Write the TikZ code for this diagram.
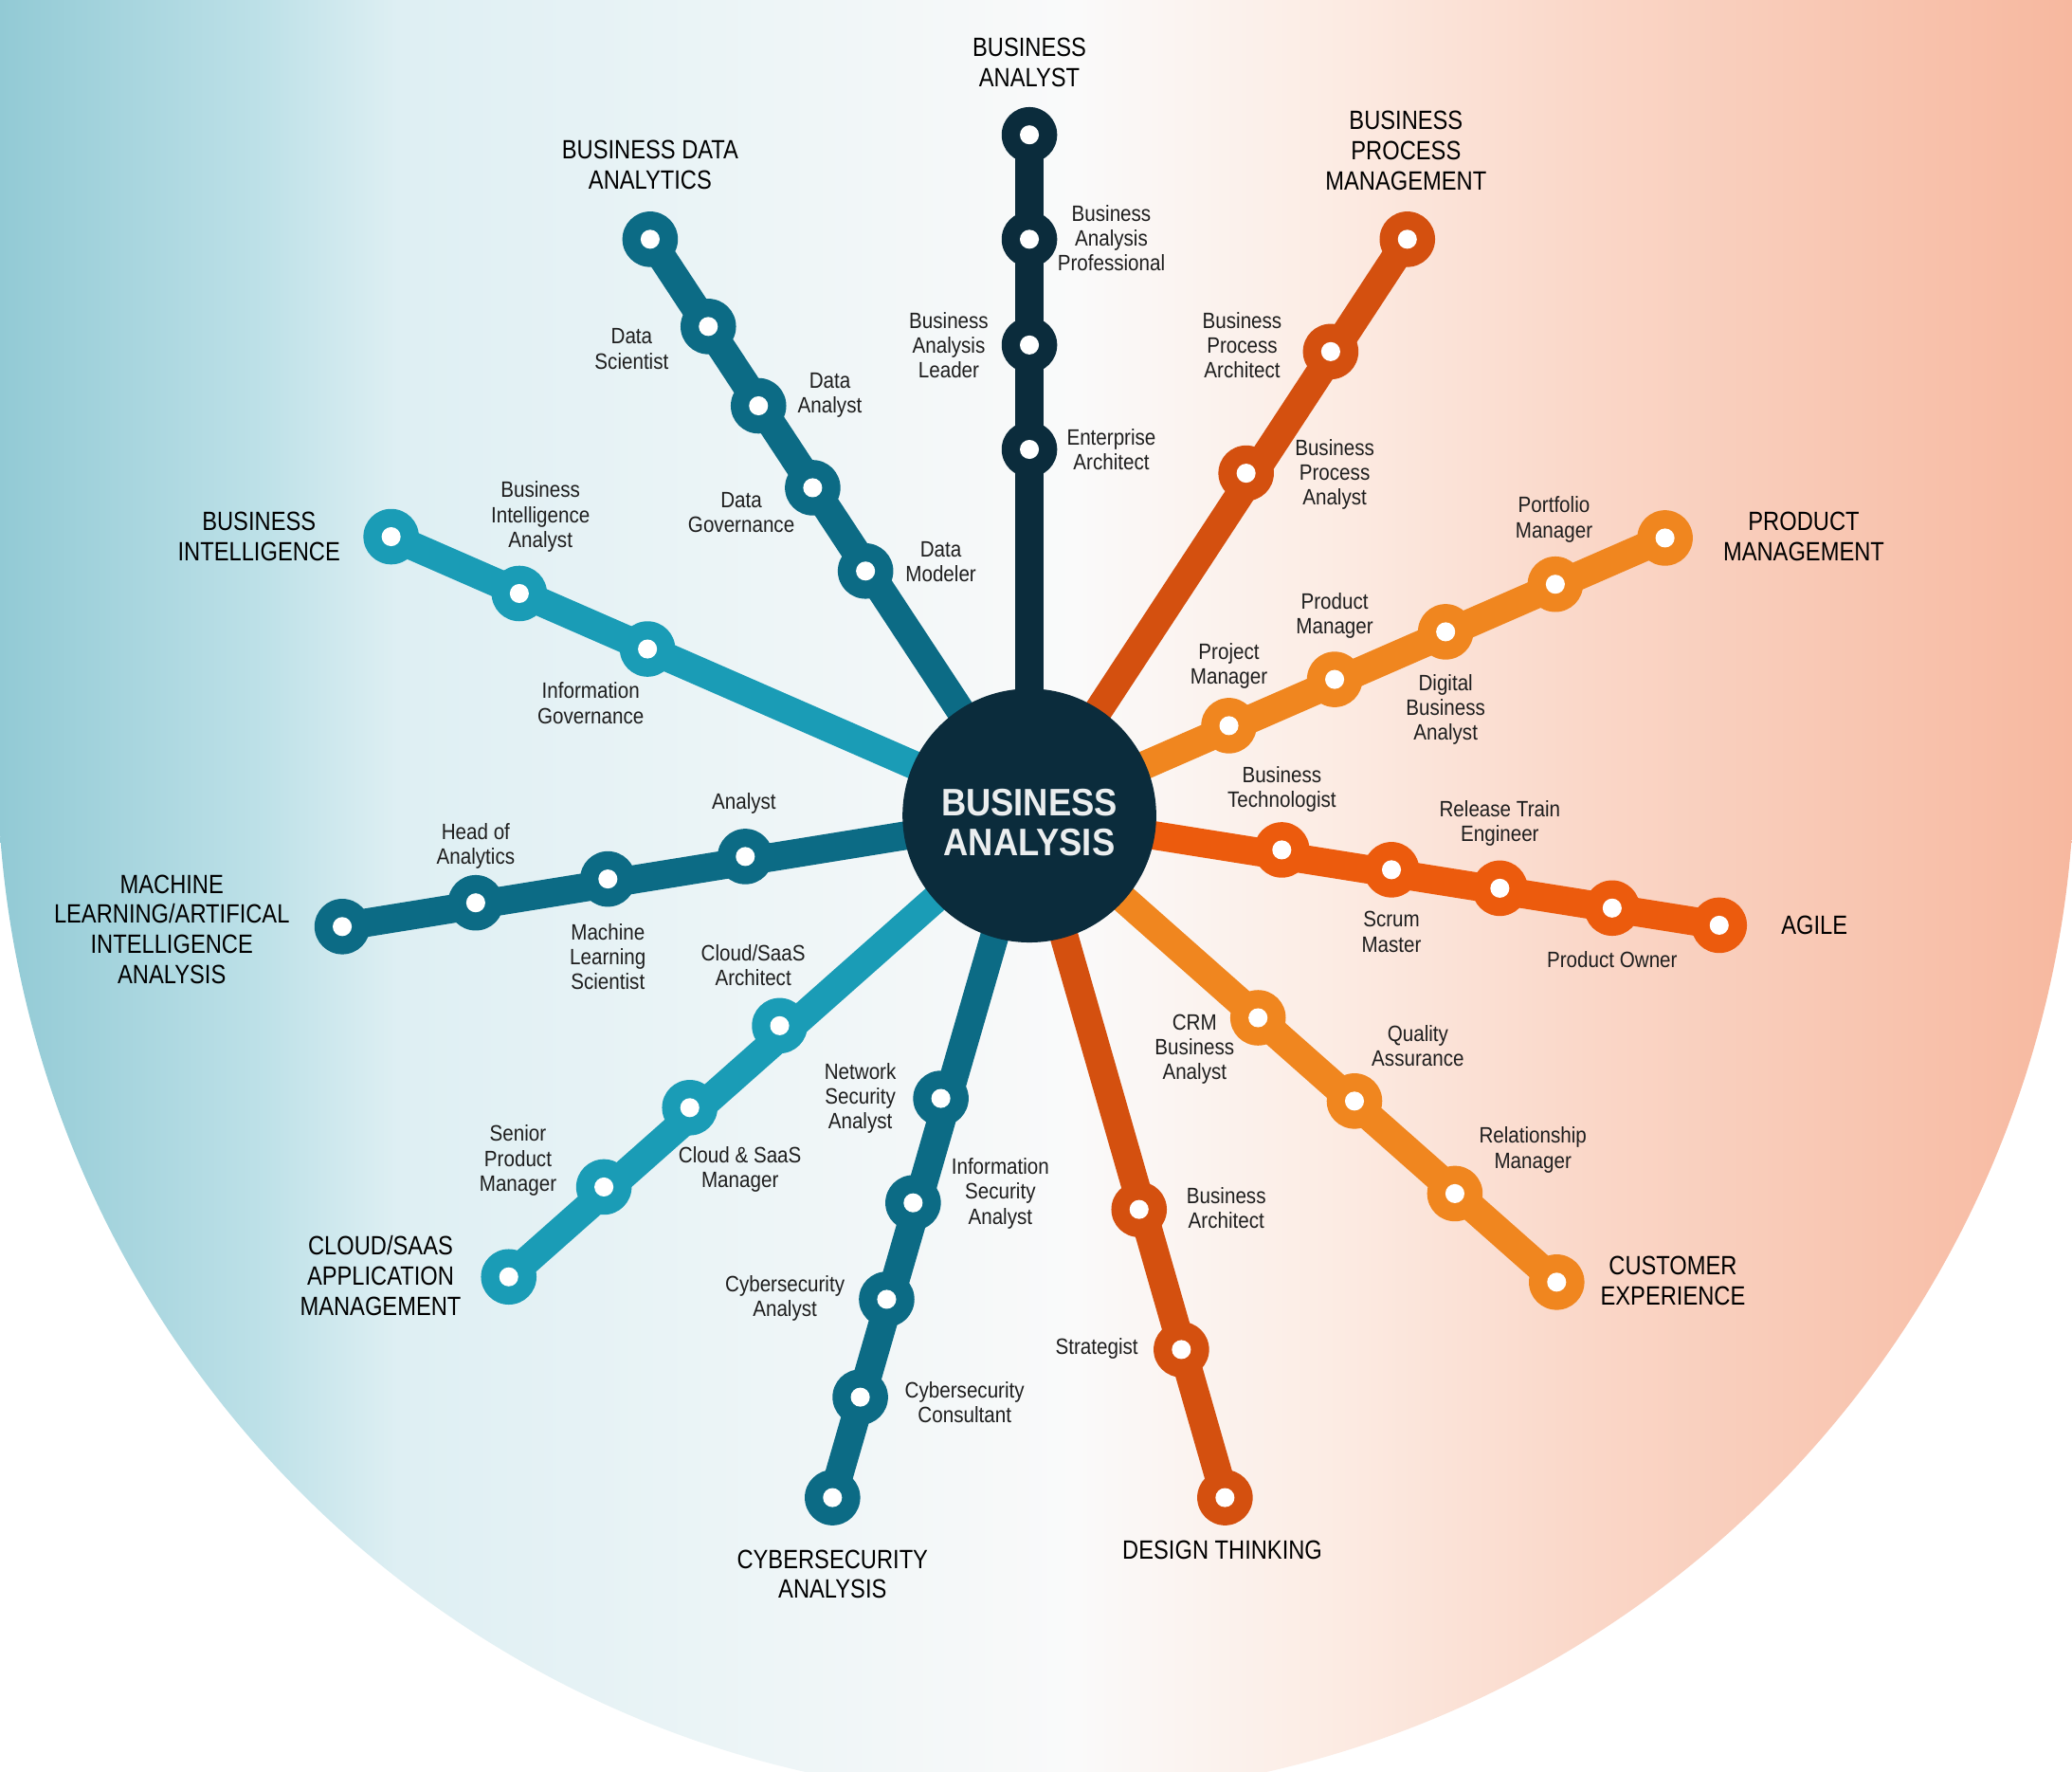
\documentclass[tikz,border=0pt]{standalone}
\usepackage{fontspec}
\setmainfont{Liberation Sans}
\newfontfamily\lblfont{Liberation Sans}[FakeStretch=0.88]
\newfontfamily\ttlfont{Liberation Sans}[FakeStretch=0.85]
\newfontfamily\ctrfont{Liberation Sans}[FakeStretch=0.9]
\usetikzlibrary{calc}
\pgfdeclarelayer{bg}
\pgfdeclarelayer{lines}
\pgfsetlayers{bg,lines,main}
\definecolor{navy}{HTML}{0B2C3C}
\definecolor{dteal}{HTML}{0C6B85}
\definecolor{lteal}{HTML}{1A9CB6}
\definecolor{dorange}{HTML}{D4500F}
\definecolor{orng}{HTML}{F0861F}
\definecolor{agilec}{HTML}{EC5B0D}
\definecolor{txt}{HTML}{1E1E1E}
\definecolor{g1}{RGB}{146,202,213}
\definecolor{g2}{RGB}{190,225,232}
\definecolor{g3}{RGB}{222,239,243}
\definecolor{g4}{RGB}{250,250,250}
\definecolor{g5}{RGB}{252,236,228}
\definecolor{g6}{RGB}{250,215,200}
\definecolor{g7}{RGB}{247,184,159}
\pgfdeclarehorizontalshading{bgsh}{100bp}{color(0bp)=(g1); color(25bp)=(g1); color(31.4bp)=(g2); color(34.6bp)=(g3); color(51bp)=(g4); color(57bp)=(g5); color(63.3bp)=(g6); color(75bp)=(g7); color(100bp)=(g7)}
\tikzset{
  stn/.style={circle, fill=#1, minimum size=21pt, inner sep=0pt,
    path picture={\fill[white] (path picture bounding box.center) circle (3.6pt);}},
  rail/.style={line width=10.75pt, draw=#1},
  lbl/.style={font=\lblfont\fontsize{8.4}{9.4}\selectfont, text=txt, align=center, inner sep=0pt},
  ttl/.style={font=\ttlfont\fontsize{10}{11.4}\selectfont, text=black, align=center, inner sep=0pt},
  ctrtxt/.style={font=\ctrfont\bfseries\fontsize{14.5}{14.5}\selectfont, text=white!92!navy, inner sep=0pt, anchor=base},
}
\begin{document}
\begin{tikzpicture}[x=0.5pt, y=-0.5pt]
\useasboundingbox (0,0) rectangle (1568,1340);
\begin{pgfonlayer}{bg}
  \fill[white] (0,0) rectangle (1568,1340);
  \begin{scope}
    \clip (0,0) rectangle (1568,1340);
    \clip (784,574) circle (393pt);
    \shade[shading=bgsh] (0,0) rectangle (1568,1340);
  \end{scope}
  \shade[shading=bgsh] (0,0) rectangle (1568,574);
\end{pgfonlayer}

% centre
\node[circle, fill=navy, minimum size=96pt, inner sep=0pt] (ctr) at (779,617) {};
\node[ctrtxt] (ctr1) at (779,617) {BUSINESS};
\node[ctrtxt] (ctr2) at (779,647) {ANALYSIS};

% 1 Business Analyst
\node[stn=navy] (ba0) at (779,102) {};
\node[stn=navy] (ba1) at (779,181) {};
\node[stn=navy] (ba2) at (779,261) {};
\node[stn=navy] (ba3) at (779,340) {};
\node[ttl] (tba) at (779,47) {BUSINESS\\ANALYST};
\node[lbl] (lba1) at (841,180) {Business\\Analysis\\Professional};
\node[lbl] (lba2) at (718,261) {Business\\Analysis\\Leader};
\node[lbl] (lba3) at (841,340) {Enterprise\\Architect};

% 2 Business Process Management
\node[stn=dorange] (bp0) at (1065,181) {};
\node[stn=dorange] (bp1) at (1007,266) {};
\node[stn=dorange] (bp2) at (943,358) {};
\node[ttl] (tbp) at (1064,114) {BUSINESS\\PROCESS\\MANAGEMENT};
\node[lbl] (lbp1) at (940,261) {Business\\Process\\Architect};
\node[lbl] (lbp2) at (1010,359) {Business\\Process\\Analyst};

% 3 Product Management
\node[stn=orng] (pm0) at (1260,407) {};
\node[stn=orng] (pm1) at (1177,442) {};
\node[stn=orng] (pm2) at (1094,478) {};
\node[stn=orng] (pm3) at (1010,514) {};
\node[stn=orng] (pm4) at (930,549) {};
\node[ttl] (tpm) at (1365,406) {PRODUCT\\MANAGEMENT};
\node[lbl] (lpm1) at (1176,393) {Portfolio\\Manager};
\node[lbl] (lpm2) at (1094,537) {Digital\\Business\\Analyst};
\node[lbl] (lpm3) at (1010,466) {Product\\Manager};
\node[lbl] (lpm4) at (930,504) {Project\\Manager};

% 4 Agile
\node[stn=agilec] (ag0) at (1301,700) {};
\node[stn=agilec] (ag1) at (1220,687) {};
\node[stn=agilec] (ag2) at (1135,672) {};
\node[stn=agilec] (ag3) at (1053,658) {};
\node[stn=agilec] (ag4) at (970,643) {};
\node[ttl] (tag) at (1373,700) {AGILE};
\node[lbl] (lag1) at (1220,726) {Product Owner};
\node[lbl] (lag2) at (1135,623) {Release Train\\Engineer};
\node[lbl] (lag3) at (1053,705) {Scrum\\Master};
\node[lbl] (lag4) at (970,597) {Business\\Technologist};

% 5 Customer Experience
\node[stn=orng] (cx0) at (1178,970) {};
\node[stn=orng] (cx1) at (1101,903) {};
\node[stn=orng] (cx2) at (1025,833) {};
\node[stn=orng] (cx3) at (952,770) {};
\node[ttl] (tcx) at (1266,969) {CUSTOMER\\EXPERIENCE};
\node[lbl] (lcx1) at (1160,870) {Relationship\\Manager};
\node[lbl] (lcx2) at (1073,791) {Quality\\Assurance};
\node[lbl] (lcx3) at (904,794) {CRM\\Business\\Analyst};

% 6 Design Thinking
\node[stn=dorange] (dt0) at (927,1133) {};
\node[stn=dorange] (dt1) at (894,1021) {};
\node[stn=dorange] (dt2) at (862,915) {};
\node[ttl] (tdt) at (925,1173) {DESIGN THINKING};
\node[lbl] (ldt1) at (830,1020) {Strategist};
\node[lbl] (ldt2) at (928,914) {Business\\Architect};

% 7 Cybersecurity Analysis
\node[stn=dteal] (cs0) at (630,1133) {};
\node[stn=dteal] (cs1) at (651,1057) {};
\node[stn=dteal] (cs2) at (671,983) {};
\node[stn=dteal] (cs3) at (691,910) {};
\node[stn=dteal] (cs4) at (712,831) {};
\node[ttl] (tcs) at (630,1191) {CYBERSECURITY\\ANALYSIS};
\node[lbl] (lcs1) at (730,1061) {Cybersecurity\\Consultant};
\node[lbl] (lcs2) at (594,982) {Cybersecurity\\Analyst};
\node[lbl] (lcs3) at (757,903) {Information\\Security\\Analyst};
\node[lbl] (lcs4) at (651,831) {Network\\Security\\Analyst};

% 8 Cloud/SaaS
\node[stn=lteal] (cl0) at (385,966) {};
\node[stn=lteal] (cl1) at (457,898) {};
\node[stn=lteal] (cl2) at (522,838) {};
\node[stn=lteal] (cl3) at (590,776) {};
\node[ttl] (tcl) at (288,965) {CLOUD/SAAS\\APPLICATION\\MANAGEMENT};
\node[lbl] (lcl1) at (392,878) {Senior\\Product\\Manager};
\node[lbl] (lcl2) at (560,885) {Cloud \& SaaS\\Manager};
\node[lbl] (lcl3) at (570,730) {Cloud/SaaS\\Architect};

% 9 Machine learning
\node[stn=dteal] (ml0) at (259,701) {};
\node[stn=dteal] (ml1) at (360,683) {};
\node[stn=dteal] (ml2) at (460,665) {};
\node[stn=dteal] (ml3) at (564,648) {};
\node[ttl] (tml) at (130,703) {MACHINE\\LEARNING/ARTIFICAL\\INTELLIGENCE\\ANALYSIS};
\node[lbl] (lml1) at (360,640) {Head of\\Analytics};
\node[lbl] (lml2) at (460,724) {Machine\\Learning\\Scientist};
\node[lbl] (lml3) at (563,608) {Analyst};

% 10 Business Intelligence
\node[stn=lteal] (bi0) at (296,406) {};
\node[stn=lteal] (bi1) at (393,449) {};
\node[stn=lteal] (bi2) at (490,491) {};
\node[ttl] (tbi) at (196,406) {BUSINESS\\INTELLIGENCE};
\node[lbl] (lbi1) at (409,391) {Business\\Intelligence\\Analyst};
\node[lbl] (lbi2) at (447,532) {Information\\Governance};

% 11 Business Data Analytics
\node[stn=dteal] (bd0) at (492,181) {};
\node[stn=dteal] (bd1) at (536,247) {};
\node[stn=dteal] (bd2) at (574,307) {};
\node[stn=dteal] (bd3) at (615,369) {};
\node[stn=dteal] (bd4) at (655,432) {};
\node[ttl] (tbd) at (492,125) {BUSINESS DATA\\ANALYTICS};
\node[lbl] (lbd1) at (478,264) {Data\\Scientist};
\node[lbl] (lbd2) at (628,299) {Data\\Analyst};
\node[lbl] (lbd3) at (561,388) {Data\\Governance};
\node[lbl] (lbd4) at (712,425) {Data\\Modeler};

\begin{pgfonlayer}{lines}
  \draw[rail=navy] (ctr.center) -- (ba0.center);
  \draw[rail=dorange] (ctr.center) -- (bp0.center);
  \draw[rail=orng] (ctr.center) -- (pm0.center);
  \draw[rail=agilec] (ctr.center) -- (ag0.center);
  \draw[rail=orng] (ctr.center) -- (cx0.center);
  \draw[rail=dorange] (ctr.center) -- (dt0.center);
  \draw[rail=dteal] (ctr.center) -- (cs0.center);
  \draw[rail=lteal] (ctr.center) -- (cl0.center);
  \draw[rail=dteal] (ctr.center) -- (ml0.center);
  \draw[rail=lteal] (ctr.center) -- (bi0.center);
  \draw[rail=dteal] (ctr.center) -- (bd0.center);
\end{pgfonlayer}
\end{tikzpicture}
\end{document}
